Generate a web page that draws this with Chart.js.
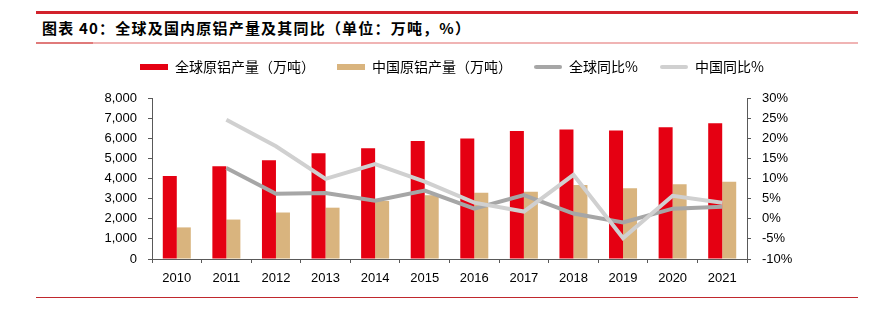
<!DOCTYPE html>
<html><head><meta charset="utf-8">
<script src="https://cdn.jsdelivr.net/npm/chart.js@4"></script>
<style>
html,body{margin:0;padding:0;background:#fff;width:878px;height:323px;overflow:hidden}
#wrap{position:relative;width:878px;height:323px}
canvas{position:absolute;left:0;top:0}
.ln{position:absolute}
#title{position:absolute;left:42px;top:18px;font:bold 15px "Noto Sans CJK SC";letter-spacing:1.2px;color:#000;white-space:nowrap;line-height:20px}
</style></head><body>
<div id="wrap">
<div class="ln" style="left:36px;top:11px;width:822px;height:3px;background:#D2222C"></div>
<div id="title">图表 40：全球及国内原铝产量及其同比（单位：万吨，%）</div>
<div class="ln" style="left:36px;top:42px;width:822px;height:2px;background:#F0B4B4"></div>
<div class="ln" style="left:36px;top:42px;width:57px;height:2px;background:#E07A7A"></div>
<div class="ln" style="left:36px;top:297px;width:822px;height:1px;background:#C0282D"></div>
<canvas id="c" width="878" height="323"></canvas>
</div>
<script>
const years = ['2010','2011','2012','2013','2014','2015','2016','2017','2018','2019','2020','2021'];
const worldOutput = [4120, 4610, 4910, 5250, 5500, 5860, 5990, 6360, 6430, 6380, 6550, 6750];
const chinaOutput = [1570, 1960, 2310, 2550, 2890, 3170, 3290, 3340, 3680, 3520, 3720, 3840];
const worldYoY = [null, 12.6, 6.2, 6.4, 4.5, 7.0, 2.5, 5.9, 1.3, -0.9, 2.5, 3.0];
const chinaYoY = [null, 24.6, 18.0, 9.9, 13.6, 9.2, 4.0, 1.8, 10.9, -4.8, 5.7, 4.0];
const seriesLabels = ['全球原铝产量（万吨）', '中国原铝产量（万吨）', '全球同比%', '中国同比%'];
const colors = ['#E50012', '#D9B47E', '#A6A6A6', '#D0D0D0'];

function swatch(color, h, round) {
  const c = document.createElement('canvas');
  c.width = 28; c.height = 8;
  const x = c.getContext('2d');
  if (round) {
    x.strokeStyle = color; x.lineWidth = h; x.lineCap = 'round';
    x.beginPath(); x.moveTo(h / 2, 4); x.lineTo(28 - h / 2, 4); x.stroke();
  } else {
    x.fillStyle = color; x.fillRect(0, (8 - h) / 2, 28, h);
  }
  return c;
}
const swatches = [swatch(colors[0], 6, false), swatch(colors[1], 6, false), swatch(colors[2], 4, true), swatch(colors[3], 4, true)];
const fmt = v => String(v).replace(/\B(?=(\d{3})+(?!\d))/g, ',');
const axisColor = '#595959';
const tickFont = { family: '"Liberation Sans"', size: 13 };

new Chart(document.getElementById('c'), {
  data: {
    labels: years,
    datasets: [
      { type: 'bar', label: seriesLabels[0], data: worldOutput, backgroundColor: colors[0], yAxisID: 'y', order: 3, categoryPercentage: 0.565, barPercentage: 1 },
      { type: 'bar', label: seriesLabels[1], data: chinaOutput, backgroundColor: colors[1], yAxisID: 'y', order: 4, categoryPercentage: 0.565, barPercentage: 1 },
      { type: 'line', label: seriesLabels[2], data: worldYoY, borderColor: colors[2], borderWidth: 4, pointRadius: 0, tension: 0, yAxisID: 'y1', order: 2 },
      { type: 'line', label: seriesLabels[3], data: chinaYoY, borderColor: colors[3], borderWidth: 4, pointRadius: 0, tension: 0, yAxisID: 'y1', order: 1 }
    ]
  },
  options: {
    responsive: false,
    animation: false,
    devicePixelRatio: 1,
    layout: { padding: { left: 26, right: 0, top: 38, bottom: 0 } },
    plugins: {
      tooltip: { enabled: false },
      legend: {
        position: 'top',
        labels: {
          usePointStyle: true,
          pointStyleWidth: 28,
          padding: 22,
          color: '#000',
          font: { family: '"Noto Sans CJK SC"', size: 14 },
          generateLabels: chart => chart.data.datasets.map((ds, i) => ({
            text: ds.label, pointStyle: swatches[i], datasetIndex: i, hidden: false,
            fontColor: '#000', lineWidth: 0, strokeStyle: 'transparent', fillStyle: colors[i]
          })),
          sort: (a, b) => a.datasetIndex - b.datasetIndex
        }
      }
    },
    scales: {
      x: {
        type: 'category',
        grid: { display: true, drawOnChartArea: false, tickLength: 4, color: axisColor, offset: true },
        border: { color: axisColor },
        ticks: { padding: 8, color: '#000', font: tickFont },
        afterFit(s) { s.height = 64; }
      },
      sp: {
        type: 'linear', position: 'top', display: true, min: 0, max: 1,
        grid: { display: false }, border: { display: false }, ticks: { display: false },
        afterFit(s) { s.height = 14; }
      },
      y: {
        position: 'left', min: 0, max: 8000,
        ticks: { stepSize: 1000, padding: 11, color: '#000', font: tickFont, callback: v => fmt(v) },
        grid: { drawOnChartArea: false, tickLength: 4, color: axisColor },
        border: { color: axisColor },
        afterFit(s) { s.width = 126; }
      },
      y1: {
        position: 'right', min: -10, max: 30,
        ticks: { stepSize: 5, padding: 11, color: '#000', font: tickFont, callback: v => v + '%' },
        grid: { drawOnChartArea: false, tickLength: 4, color: axisColor },
        border: { color: axisColor },
        afterFit(s) { s.width = 131; }
      }
    }
  }
});
</script>
</body></html>
